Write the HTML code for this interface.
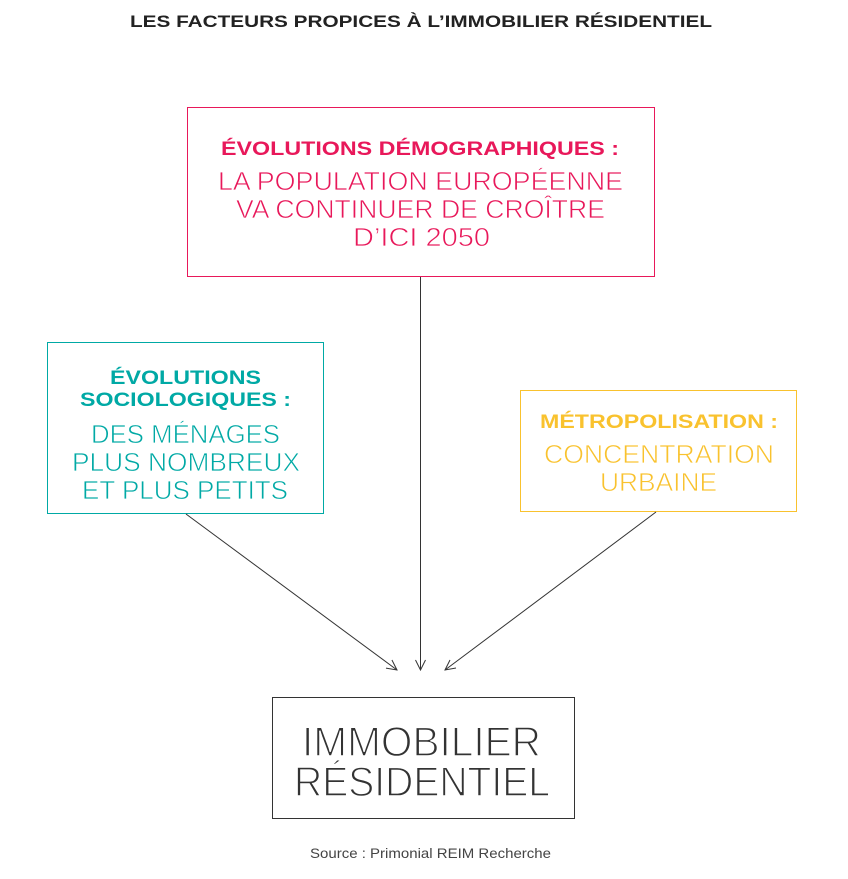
<!DOCTYPE html>
<html><head><meta charset="utf-8"><style>
html,body{margin:0;padding:0;background:#fff;}
svg{display:block;}
text{font-family:"Liberation Sans",sans-serif;}
.thin{stroke:#fff;stroke-width:0.7px;}
.thinner{stroke:#fff;stroke-width:1.4px;}
</style></head><body>
<svg width="848" height="879" viewBox="0 0 848 879" xmlns="http://www.w3.org/2000/svg">
<defs>
<marker id="ah" viewBox="0 0 12 12" refX="11" refY="6" markerWidth="12" markerHeight="12" markerUnits="userSpaceOnUse" orient="auto">
<path d="M1,1 L11,6 L1,11" fill="none" stroke="#333" stroke-width="1"/>
</marker>
</defs>
<text x="130" y="27" font-size="17" font-weight="bold" fill="#222" textLength="582" lengthAdjust="spacingAndGlyphs">LES FACTEURS PROPICES À L’IMMOBILIER RÉSIDENTIEL</text>

<rect x="187.5" y="107.5" width="467" height="169" fill="none" stroke="#e8185a" stroke-width="1"/>
<g fill="#e8185a">
<text x="221" y="155" font-size="19" font-weight="bold" textLength="398" lengthAdjust="spacingAndGlyphs">ÉVOLUTIONS DÉMOGRAPHIQUES :</text>
<text class="thin" x="218" y="190" font-size="26" textLength="405" lengthAdjust="spacingAndGlyphs">LA POPULATION EUROPÉENNE</text>
<text class="thin" x="236" y="218" font-size="26" textLength="369" lengthAdjust="spacingAndGlyphs">VA CONTINUER DE CROÎTRE</text>
<text class="thin" x="353" y="246" font-size="26" textLength="137" lengthAdjust="spacingAndGlyphs">D’ICI 2050</text>
</g>

<rect x="47.5" y="342.5" width="276" height="171" fill="none" stroke="#00a9a5" stroke-width="1"/>
<g fill="#00a9a5">
<text x="110" y="384" font-size="19" font-weight="bold" textLength="151" lengthAdjust="spacingAndGlyphs">ÉVOLUTIONS</text>
<text x="80" y="406" font-size="19" font-weight="bold" textLength="211" lengthAdjust="spacingAndGlyphs">SOCIOLOGIQUES :</text>
<text class="thin" x="91" y="443" font-size="26" textLength="189" lengthAdjust="spacingAndGlyphs">DES MÉNAGES</text>
<text class="thin" x="72" y="471" font-size="26" textLength="228" lengthAdjust="spacingAndGlyphs">PLUS NOMBREUX</text>
<text class="thin" x="82" y="499" font-size="26" textLength="206" lengthAdjust="spacingAndGlyphs">ET PLUS PETITS</text>
</g>

<rect x="520.5" y="390.5" width="276" height="121" fill="none" stroke="#f9c22e" stroke-width="1"/>
<g fill="#f9c22e">
<text x="540" y="428" font-size="19" font-weight="bold" textLength="238" lengthAdjust="spacingAndGlyphs">MÉTROPOLISATION :</text>
<text class="thin" x="544" y="463" font-size="26" textLength="230" lengthAdjust="spacingAndGlyphs">CONCENTRATION</text>
<text class="thin" x="600" y="491" font-size="26" textLength="117" lengthAdjust="spacingAndGlyphs">URBAINE</text>
</g>

<line x1="420.5" y1="277" x2="420.5" y2="670" stroke="#333" stroke-width="1" marker-end="url(#ah)"/>
<line x1="186" y1="514" x2="397" y2="670" stroke="#333" stroke-width="1" marker-end="url(#ah)"/>
<line x1="656" y1="512" x2="445" y2="670" stroke="#333" stroke-width="1" marker-end="url(#ah)"/>

<rect x="272.5" y="697.5" width="302" height="121" fill="none" stroke="#333" stroke-width="1"/>
<g fill="#333">
<text class="thinner" x="302" y="756" font-size="42" textLength="239" lengthAdjust="spacingAndGlyphs">IMMOBILIER</text>
<text class="thinner" x="294" y="796" font-size="42" textLength="256" lengthAdjust="spacingAndGlyphs">RÉSIDENTIEL</text>
</g>
<text x="310" y="858" font-size="14" fill="#444" textLength="241" lengthAdjust="spacingAndGlyphs">Source : Primonial REIM Recherche</text>
</svg>
</body></html>
